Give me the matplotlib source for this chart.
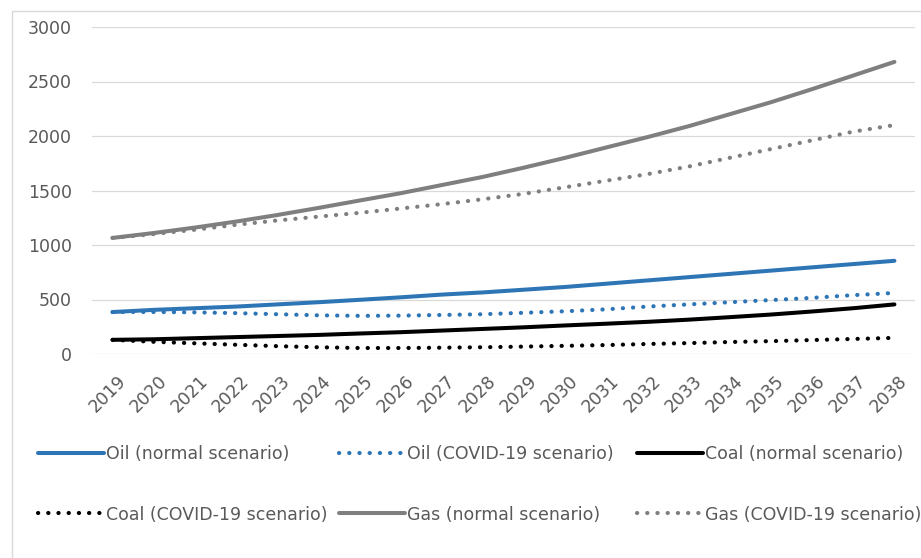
import matplotlib
matplotlib.use("Agg")
import matplotlib.pyplot as plt
import matplotlib.patches as patches
from matplotlib.transforms import ScaledTranslation

# ---- data ----
years = list(range(2019, 2039))

oil_normal = [385, 405, 420, 435, 455, 475, 497, 520, 545, 565,
              590, 615, 645, 675, 705, 735, 765, 795, 825, 855]
oil_covid = [385, 385, 382, 375, 365, 355, 350, 352, 358, 365,
             378, 392, 410, 435, 455, 475, 495, 515, 540, 560]
coal_normal = [130, 135, 145, 155, 165, 175, 188, 200, 215, 230,
               245, 262, 278, 295, 315, 338, 362, 390, 420, 455]
coal_covid = [130, 112, 98, 85, 72, 62, 55, 55, 58, 62,
              68, 75, 82, 92, 100, 110, 118, 128, 138, 148]
gas_normal = [1065, 1110, 1160, 1215, 1275, 1340, 1408, 1475, 1550, 1625,
              1710, 1800, 1895, 1990, 2090, 2200, 2310, 2430, 2555, 2680]
gas_covid = [1065, 1100, 1140, 1185, 1225, 1260, 1295, 1335, 1375, 1420,
             1470, 1530, 1590, 1650, 1720, 1800, 1880, 1960, 2040, 2100]

y_ticks = [0, 500, 1000, 1500, 2000, 2500, 3000]

BLUE = "#2E75B6"
BLACK = "#000000"
GRAY = "#7F7F7F"
TEXT = "#595959"
GRID = "#D9D9D9"

FS = 12.5
DOT = (0, (0.05, 2.4))

fig = plt.figure(figsize=(9.21, 5.58), dpi=100)
fig.patch.set_facecolor("white")

# outer chart border (only left/top visible in the crop)
fig.patches.append(patches.Rectangle((12 / 921, -0.05), 1.2, 1 - 11 / 558 + 0.05,
                                     transform=fig.transFigure, fill=False,
                                     edgecolor=GRID, linewidth=1.0))

ax = fig.add_axes([92 / 921, 1 - 354 / 558, (915 - 92) / 921, (354 - 27) / 558])

series = [
    ("Oil (normal scenario)", oil_normal, BLUE, "-"),
    ("Oil (COVID-19 scenario)", oil_covid, BLUE, DOT),
    ("Coal (normal scenario)", coal_normal, BLACK, "-"),
    ("Coal (COVID-19 scenario)", coal_covid, BLACK, DOT),
    ("Gas (normal scenario)", gas_normal, GRAY, "-"),
    ("Gas (COVID-19 scenario)", gas_covid, GRAY, DOT),
]

handles = {}
for name, vals, col, ls in series:
    lw = 2.9 if ls == "-" else 3.0
    ln, = ax.plot(years, vals, color=col, linestyle=ls, linewidth=lw,
                  solid_capstyle="round", dash_capstyle="round", label=name)
    handles[name] = ln

ax.set_xlim(years[0] - 0.5, years[-1] + 0.5)
ax.set_ylim(0, 3000)
ax.set_yticks(y_ticks)
ax.set_xticks(years)
ax.set_xticklabels([str(y) for y in years], rotation=45, ha="right", va="top",
                   rotation_mode="anchor")
ax.tick_params(axis="both", length=0, labelsize=FS, labelcolor=TEXT)
ax.tick_params(axis="y", pad=14.5)
ax.tick_params(axis="x", pad=13)
for lbl in ax.get_xticklabels():
    lbl.set_transform(lbl.get_transform() + ScaledTranslation(4 / 100, 0, fig.dpi_scale_trans))

ax.grid(axis="y", color=GRID, linewidth=0.9)
ax.set_axisbelow(True)
for s in ax.spines.values():
    s.set_visible(False)

# legend: three columns placed like the original grid
columns = [
    (38, ["Oil (normal scenario)", "Coal (COVID-19 scenario)"]),
    (339, ["Oil (COVID-19 scenario)", "Gas (normal scenario)"]),
    (637, ["Coal (normal scenario)", "Gas (COVID-19 scenario)"]),
]
for x0, names in columns:
    fig.legend([handles[n] for n in names], names, loc="upper left",
               bbox_to_anchor=(x0 / 921, 1 - 445 / 558), frameon=False,
               fontsize=FS, labelcolor=TEXT, handlelength=3.8,
               handletextpad=0.1, labelspacing=2.45, borderpad=0,
               borderaxespad=0)

fig.savefig("out.png", dpi=100, facecolor="white")
